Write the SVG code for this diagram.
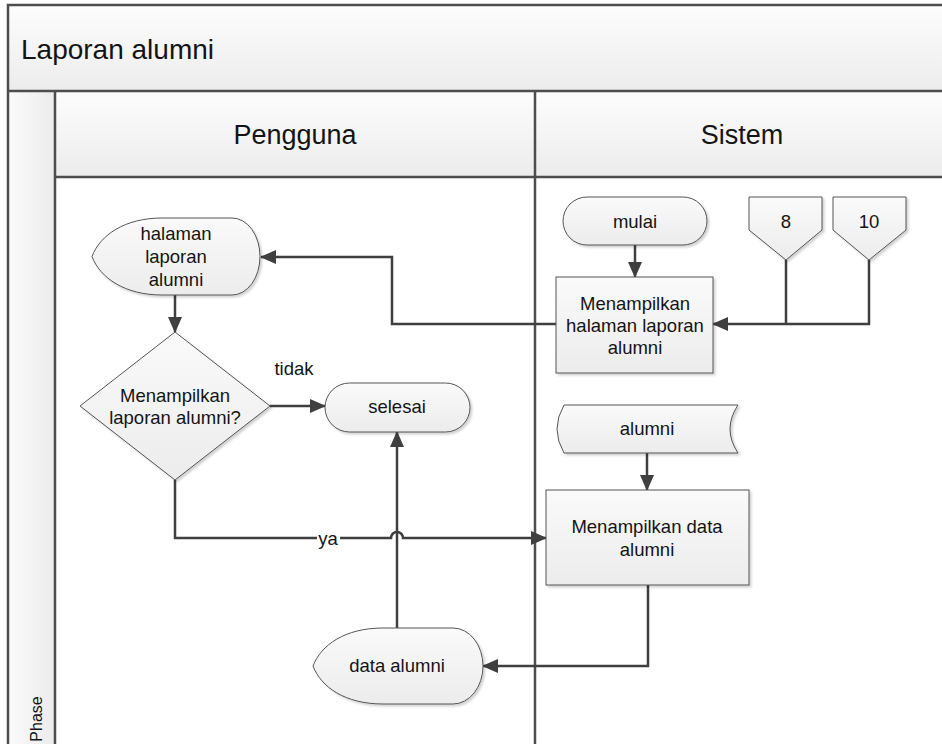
<svg xmlns="http://www.w3.org/2000/svg" width="942" height="744" viewBox="0 0 942 744">
<defs>
<linearGradient id="gv" x1="0" y1="0" x2="0" y2="1"><stop offset="0" stop-color="#fdfdfd"/><stop offset="1" stop-color="#ececec"/></linearGradient>
<linearGradient id="gh" x1="0" y1="0" x2="1" y2="0"><stop offset="0" stop-color="#fbfbfb"/><stop offset="1" stop-color="#ebebeb"/></linearGradient>
<linearGradient id="gn" x1="0" y1="0" x2="0" y2="1"><stop offset="0" stop-color="#fafafa"/><stop offset="1" stop-color="#ececec"/></linearGradient>
<filter id="sh" x="-10%" y="-10%" width="130%" height="130%"><feDropShadow dx="2" dy="2" stdDeviation="1.2" flood-color="#000" flood-opacity="0.18"/></filter>
<marker id="ah" markerUnits="userSpaceOnUse" markerWidth="16" markerHeight="14" refX="15" refY="7" orient="auto"><path d="M0,0 L16,7 L0,14 Z" fill="#3f3f3f"/></marker>
<style>
.frame{stroke:#4d4d4d;stroke-width:2.5;fill:none}
.node{fill:url(#gn);stroke:#555;stroke-width:1;filter:url(#sh)}
.c{fill:none;stroke:#3f3f3f;stroke-width:2.5}
.t{font-family:"Liberation Sans",Arial,sans-serif;fill:#141414;text-anchor:middle}
.n{font-size:18.5px}
.h{font-size:27px}
</style>
</defs>
<rect width="942" height="744" fill="#ffffff"/>
<g id="pool">
<rect x="8" y="5" width="940" height="86" fill="url(#gv)"/>
<rect x="55" y="91" width="893" height="86" fill="url(#gv)"/>
<rect x="8" y="91" width="47" height="660" fill="url(#gh)"/>
<path class="frame" d="M8,750 L8,5 L948,5 M8,91 L948,91 M55,177 L948,177 M55,91 L55,750 M535,91 L535,750"/>
<text class="t" font-size="28" x="21" y="59" style="text-anchor:start">Laporan alumni</text>
<text class="t h" x="295" y="144">Pengguna</text>
<text class="t h" x="742" y="144">Sistem</text>
<text class="t" font-size="16" transform="translate(42,719) rotate(-90)">Phase</text>
</g>
<g id="connectors">
<path class="c" d="M635,245 L635,277" marker-end="url(#ah)"/>
<path class="c" d="M869,260 L869,324 L713,324" marker-end="url(#ah)"/>
<path class="c" d="M786,260 L786,324"/>
<path class="c" d="M556,324 L392,324 L392,257 L261,257" marker-end="url(#ah)"/>
<path class="c" d="M175,295 L175,332" marker-end="url(#ah)"/>
<path class="c" d="M270,406 L325,406" marker-end="url(#ah)"/>
<path class="c" d="M175,480 L175,538 L391,538 A6,6 0 0 1 403,538 L546,538" marker-end="url(#ah)"/>
<path class="c" d="M397,628 L397,432" marker-end="url(#ah)"/>
<path class="c" d="M647,453 L647,490" marker-end="url(#ah)"/>
<path class="c" d="M648,585 L648,666 L483,666" marker-end="url(#ah)"/>
<rect x="317" y="530" width="23" height="16" fill="#ffffff"/>
<text class="t n" x="328" y="545">ya</text>
<text class="t n" x="294" y="375">tidak</text>
</g>
<g id="halaman">
<path class="node" d="M162,218 L232,218 A28,38.5 0 0 1 232,295 L162,295 C125,295 100,278 92,256.5 C100,235 125,218 162,218 Z"/>
<text class="t n" x="176" y="240">halaman</text>
<text class="t n" x="176" y="263">laporan</text>
<text class="t n" x="176" y="286">alumni</text>
</g>
<g id="keputusan">
<path class="node" d="M175,332 L270,406 L175,480 L80,406 Z"/>
<text class="t n" x="175" y="402">Menampilkan</text>
<text class="t n" x="175" y="424">laporan alumni?</text>
</g>
<g id="selesai">
<rect class="node" x="325" y="383" width="145" height="49" rx="24.5"/>
<text class="t n" x="397" y="413">selesai</text>
</g>
<g id="mulai">
<rect class="node" x="563" y="197" width="144" height="48" rx="24"/>
<text class="t n" x="635" y="228">mulai</text>
</g>
<g id="off8">
<path class="node" d="M749,197 L822,197 L822,230 L786,260 L749,230 Z"/>
<text class="t n" x="786" y="228">8</text>
</g>
<g id="off10">
<path class="node" d="M833,197 L906,197 L906,230 L869,260 L833,230 Z"/>
<text class="t n" x="869" y="228">10</text>
</g>
<g id="tampilHalaman">
<rect class="node" x="556" y="277" width="157" height="96"/>
<text class="t n" x="635" y="310">Menampilkan</text>
<text class="t n" x="635" y="332">halaman laporan</text>
<text class="t n" x="635" y="354">alumni</text>
</g>
<g id="alumniDB">
<path class="node" d="M564,405 L738,405 Q722,429 738,453 L564,453 Q550,429 564,405 Z"/>
<text class="t n" x="647" y="435">alumni</text>
</g>
<g id="tampilData">
<rect class="node" x="546" y="490" width="203" height="95"/>
<text class="t n" x="647" y="533">Menampilkan data</text>
<text class="t n" x="647" y="556">alumni</text>
</g>
<g id="dataAlumni">
<path class="node" d="M383,628 L453,628 A30,38 0 0 1 453,704 L383,704 C345,704 321,687 313,666 C321,645 345,628 383,628 Z"/>
<text class="t n" x="397" y="672">data alumni</text>
</g>
</svg>
